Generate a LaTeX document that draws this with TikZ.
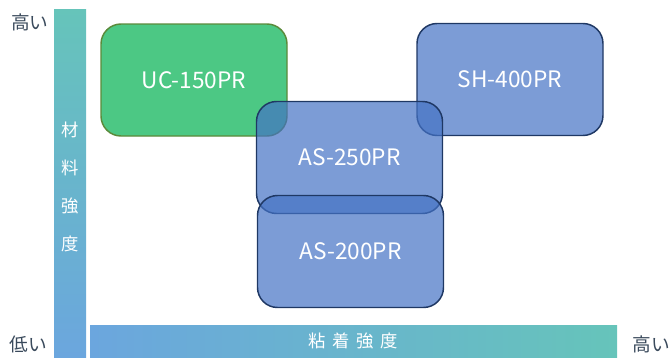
\documentclass[tikz,border=0pt]{standalone}
\usepackage{fontspec}
\setmainfont{Noto Sans CJK JP}
\usepackage{tikz}
\usetikzlibrary{positioning, calc, backgrounds}
\definecolor{greenfill}{HTML}{00B050}
\definecolor{greenedge}{HTML}{5B8A3A}
\definecolor{bluefill}{HTML}{4472C4}
\definecolor{blueedge}{HTML}{1F3864}
\definecolor{barteal}{HTML}{66C4BA}
\definecolor{barblue}{HTML}{6BA6DE}
\definecolor{labelgray}{HTML}{3A4A5C}

\begin{document}
\begin{tikzpicture}[
    x=0.75pt, y=-0.75pt,
    prodbox/.style={rectangle, rounded corners=15pt, minimum width=139.5pt, minimum height=84pt, fill opacity=0.7, text opacity=1, text=white, line width=1.1pt, font=\fontsize{17}{20}\selectfont},
    greenbox/.style={prodbox, fill=greenfill, draw=greenedge},
    bluebox/.style={prodbox, fill=bluefill, draw=blueedge},
    endlabel/.style={text=labelgray, font=\fontsize{14}{16}\selectfont, inner sep=0pt},
    axislabel/.style={text=white, font=\fontsize{13}{28.5}\selectfont, inner sep=0pt}
]
\useasboundingbox (0,0) rectangle (670,361);

% Axes
\path[top color=barteal, bottom color=barblue] (54,9) rectangle (86,357);
\path[left color=barblue, right color=barteal] (90,325) rectangle (617,357);
\node[axislabel, align=center] (vlabel) at (70,187) {材\\料\\強\\度};
\node[axislabel] (hlabel) at (353,341) {粘\hspace{5pt}着\hspace{5pt}強\hspace{5pt}度};

% End labels
\node[endlabel] (hightop) at (30,22) {高い};
\node[endlabel] (low) at (28,344) {低い};
\node[endlabel] (highright) at (651,344) {高い};

% Products
\node[greenbox] (uc) at (194,80) {UC-150PR};
\node[bluebox] (sh) at (510,79.5) {SH-400PR};
\node[bluebox] (as250) at (349.5,157.5) {AS-250PR};
\node[bluebox] (as200) at (350.5,251.5) {AS-200PR};

\end{tikzpicture}
\end{document}
